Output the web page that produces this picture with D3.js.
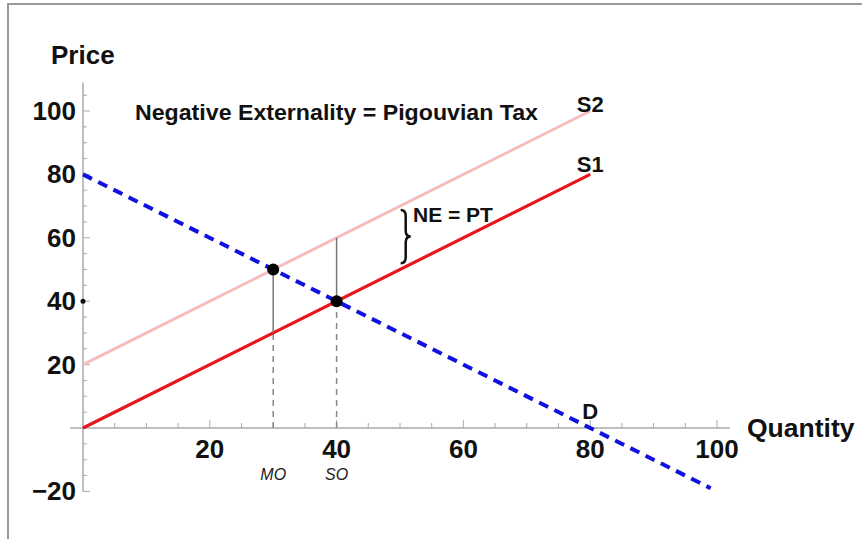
<!DOCTYPE html>
<html>
<head>
<meta charset="utf-8">
<script src="https://cdn.jsdelivr.net/npm/d3@7"></script>
<style>
  html, body { margin: 0; padding: 0; background: #fff; }
  svg { display: block; }
  text { font-family: "Liberation Sans", Arial, sans-serif; }
</style>
</head>
<body>
<svg id="chart" width="862" height="539"></svg>
<script>
// ---- data ----
const supply1 = [[0, 0], [80, 80]];          // S1
const supply2 = [[0, 20], [80, 100]];        // S2
const demand = [[0, 80], [99, -19]];         // D
const equilibria = [[30, 50], [40, 40]];     // market & social optimum points
const taxGaps = [[30, 30, 50], [40, 40, 60]]; // x, y from, y to
const dropLines = [[30, 30], [40, 40]];      // x, y top
const optimumLabels = [[30, "MO"], [40, "SO"]];
const xTicks = [20, 40, 60, 80, 100];
const yTicks = [-20, 20, 40, 60, 80, 100];
const curveLabels = [["S2", 80, 100], ["S1", 80, 80], ["D", 80, 0]];
const curveLabelDy = [1, -2, -9];

const svg = d3.select("#chart");
const x = d3.scaleLinear().domain([0, 100]).range([83, 717]);
const y = d3.scaleLinear().domain([0, 100]).range([428, 111]);

// frame
svg.append("rect").attr("x", 8).attr("y", 4).attr("width", 870).attr("height", 560)
  .attr("fill", "none").attr("stroke", "#9a9a9a").attr("stroke-width", 2);

// axes
const axisColor = "#aaaaaa";
svg.append("line").attr("x1", x(-2)).attr("x2", x(102)).attr("y1", y(0)).attr("y2", y(0))
  .attr("stroke", axisColor).attr("stroke-width", 1.5);
svg.append("line").attr("x1", x(0)).attr("x2", x(0)).attr("y1", y(-20)).attr("y2", y(109))
  .attr("stroke", axisColor).attr("stroke-width", 1.5);

// x ticks
d3.range(5, 101, 5).forEach(v => {
  const major = v % 20 === 0;
  svg.append("line").attr("x1", x(v)).attr("x2", x(v))
    .attr("y1", y(0)).attr("y2", y(0) - (major ? 8 : 5))
    .attr("stroke", axisColor).attr("stroke-width", 1);
});
// y ticks
d3.range(-20, 106, 5).forEach(v => {
  if (v === 0) return;
  const major = v % 20 === 0;
  svg.append("line").attr("x1", x(0)).attr("x2", x(0) + (major ? 7 : 4))
    .attr("y1", y(v)).attr("y2", y(v))
    .attr("stroke", axisColor).attr("stroke-width", 1);
});

svg.selectAll(".xt").data(xTicks).enter().append("text")
  .attr("x", d => x(d)).attr("y", y(0) + 30)
  .attr("text-anchor", "middle").attr("font-size", 26).attr("font-weight", "bold")
  .attr("fill", "#111").text(d => d);
svg.selectAll(".yt").data(yTicks).enter().append("text")
  .attr("x", 76).attr("y", d => y(d) + 9)
  .attr("text-anchor", "end").attr("font-size", 26).attr("font-weight", "bold")
  .attr("fill", "#111").text(d => d < 0 ? "\u2212" + Math.abs(d) : d);

// axis titles
svg.append("text").attr("x", 51).attr("y", 64).attr("font-size", 26).attr("font-weight", "bold")
  .attr("fill", "#111").text("Price");
svg.append("text").attr("x", 747).attr("y", 437).attr("font-size", 26.5).attr("font-weight", "bold")
  .attr("fill", "#111").text("Quantity");

// chart title
svg.append("text").attr("x", 135).attr("y", 120).attr("font-size", 22).attr("font-weight", "bold")
  .attr("textLength", 403).attr("lengthAdjust", "spacingAndGlyphs")
  .attr("fill", "#111").text("Negative Externality = Pigouvian Tax");

// small dot on y-axis at 40
svg.append("circle").attr("cx", x(0)).attr("cy", y(40)).attr("r", 2.5).attr("fill", "#111");

const line = d3.line().x(d => x(d[0])).y(d => y(d[1]));

// drop lines (dashed)
svg.selectAll(".drop").data(dropLines).enter().append("line")
  .attr("x1", d => x(d[0])).attr("x2", d => x(d[0]))
  .attr("y1", y(0)).attr("y2", d => y(d[1]))
  .attr("stroke", "#888").attr("stroke-width", 1.5).attr("stroke-dasharray", "6,5");

// S2
svg.append("path").datum(supply2).attr("d", line).attr("fill", "none")
  .attr("stroke", "#f7bcbc").attr("stroke-width", 3);
// S1
svg.append("path").datum(supply1).attr("d", line).attr("fill", "none")
  .attr("stroke", "#e8151b").attr("stroke-width", 3.2);

// tax gap vertical lines
svg.selectAll(".gap").data(taxGaps).enter().append("line")
  .attr("x1", d => x(d[0])).attr("x2", d => x(d[0]))
  .attr("y1", d => y(d[1])).attr("y2", d => y(d[2]))
  .attr("stroke", "#777").attr("stroke-width", 1.5);

// D
svg.append("path").datum(demand).attr("d", line).attr("fill", "none")
  .attr("stroke", "#1010e0").attr("stroke-width", 4).attr("stroke-dasharray", "10,7");

// points
svg.selectAll(".pt").data(equilibria).enter().append("circle")
  .attr("cx", d => x(d[0])).attr("cy", d => y(d[1])).attr("r", 6).attr("fill", "#000");

// curve labels
svg.selectAll(".cl").data(curveLabels).enter().append("text")
  .attr("x", d => x(d[1])).attr("y", (d, i) => y(d[2]) + curveLabelDy[i])
  .attr("text-anchor", "middle").attr("font-size", 22).attr("font-weight", "bold")
  .attr("fill", "#111").text(d => d[0]);

// MO / SO
svg.selectAll(".ol").data(optimumLabels).enter().append("text")
  .attr("x", d => x(d[0])).attr("y", y(0) + 52)
  .attr("text-anchor", "middle").attr("font-size", 16).attr("font-style", "italic")
  .attr("fill", "#222").text(d => d[1]);

// brace
const bx = x(50.9), bt = y(68.8), bb = y(52), bm = (bt + bb) / 2, w = 5, q = 6;
const bpath = `M${bx - w},${bt} Q${bx},${bt} ${bx},${bt + q} L${bx},${bm - q} Q${bx},${bm} ${bx + w},${bm}` +
  ` Q${bx},${bm} ${bx},${bm + q} L${bx},${bb - q} Q${bx},${bb} ${bx - w},${bb}`;
svg.append("path").attr("d", bpath).attr("fill", "none").attr("stroke", "#111").attr("stroke-width", 2.5);
svg.append("text").attr("x", 413).attr("y", 222).attr("font-size", 21).attr("font-weight", "bold")
  .attr("fill", "#111").text("NE = PT");
</script>
</body>
</html>
